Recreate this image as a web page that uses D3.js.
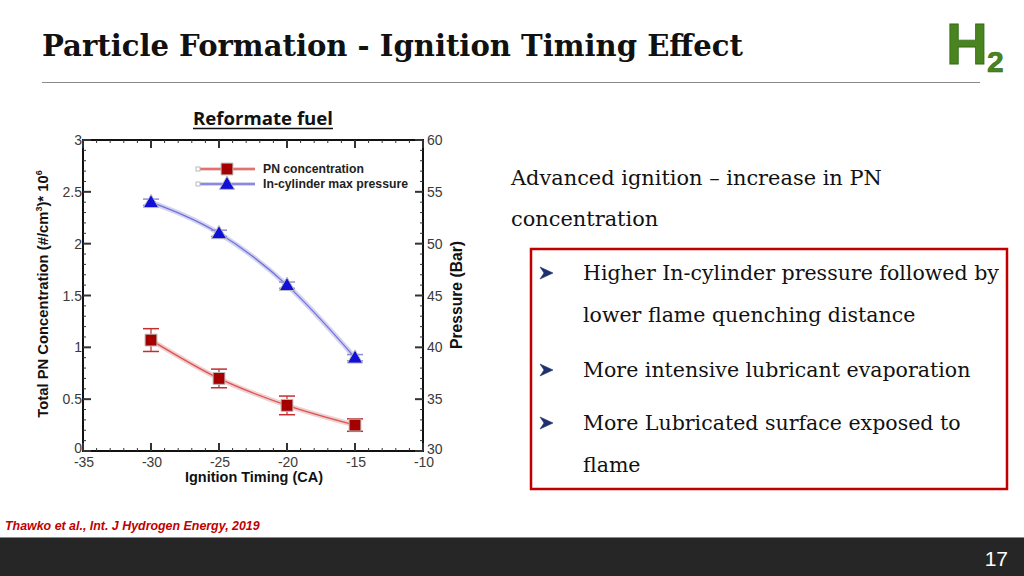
<!DOCTYPE html>
<html><head><meta charset="utf-8">
<script src="https://cdn.jsdelivr.net/npm/d3@7"></script>
<style>body{margin:0;background:#fff}svg{display:block}</style>
</head><body>
<svg id="c" width="1024" height="576"></svg>
<script>
const timing = [-30, -25, -20, -15];
const pnValues = [1.07, 0.70, 0.44, 0.25];
const pnErrors = [0.11, 0.09, 0.09, 0.06];
const pressureValues = [54, 51, 46, 39];
const pressureErrors = [0.3, 0.3, 0.3, 0.3];
const xTicks = [-35, -30, -25, -20, -15, -10];
const yLeftTicks = [0, 0.5, 1, 1.5, 2, 2.5, 3];
const yRightTicks = [30, 35, 40, 45, 50, 55, 60];
const seriesNames = ["PN concentration", "In-cylinder max pressure"];
const bullets = [
  ["Higher In-cylinder pressure followed by", "lower flame quenching distance"],
  ["More intensive lubricant evaporation"],
  ["More Lubricated surface exposed to", "flame"]
];

const svg = d3.select("#c");
const L = 83, R = 423, T = 140, B = 451;
const x = d3.scaleLinear([-35, -10], [L, R]);
const yL = d3.scaleLinear([0, 3], [B, T]);
const yR = d3.scaleLinear([30, 60], [B, T]);

function fit(sel, w) {
  const n = sel.node();
  const fs = parseFloat(sel.attr("font-size"));
  const m = n.getComputedTextLength();
  sel.attr("font-size", (fs * w / m).toFixed(2));
  return sel;
}
function applyAttrs(s, o) { for (const k in o) s.attr(k, o[k]); return s; }

// Title
fit(svg.append("text").attr("x", 42).attr("y", 56).attr("font-family", "DejaVu Serif")
  .attr("font-weight", "bold").attr("font-size", 26).attr("fill", "#111")
  .text("Particle Formation - Ignition Timing Effect"), 701);
svg.append("line").attr("x1", 42).attr("x2", 980).attr("y1", 82.5).attr("y2", 82.5)
  .attr("stroke", "#8a8a8a").attr("stroke-width", 1.2);

// Logo
svg.append("text").attr("x", 946).attr("y", 64).attr("font-family", "Liberation Sans")
  .attr("font-weight", "bold").attr("font-size", 58).attr("fill", "#4a8420").attr("stroke", "#2f6a12").attr("stroke-width", 0.8).text("H");
svg.append("text").attr("x", 987).attr("y", 72).attr("font-family", "Liberation Sans")
  .attr("font-weight", "bold").attr("font-size", 30).attr("fill", "#4a8420").attr("stroke", "#2f6a12").attr("stroke-width", 0.6).text("2");

// Subtitle
const sub = svg.append("text").attr("x", 263).attr("y", 125).attr("text-anchor", "middle")
  .attr("font-family", "Open Sans").attr("font-weight", "bold").attr("font-size", 15)
  .attr("fill", "#111").text("Reformate fuel");
fit(sub, 140);
svg.append("line").attr("x1", 193).attr("x2", 333).attr("y1", 128.5).attr("y2", 128.5)
  .attr("stroke", "#111").attr("stroke-width", 1.3);

// Chart frame
const g = svg.append("g");
g.append("rect").attr("x", L).attr("y", T).attr("width", R - L).attr("height", B - T)
  .attr("fill", "none").attr("stroke", "#111").attr("stroke-width", 2);

const tickCol = "#333";
d3.range(-35, -9.99, 1).forEach(v => {
  const major = xTicks.includes(v);
  const len = major ? 8 : 3;
  g.append("line").attr("x1", x(v)).attr("x2", x(v)).attr("y1", B).attr("y2", B - len)
    .attr("stroke", tickCol).attr("stroke-width", major ? 2 : 1);
  g.append("line").attr("x1", x(v)).attr("x2", x(v)).attr("y1", T).attr("y2", T + len)
    .attr("stroke", tickCol).attr("stroke-width", major ? 2 : 1);
});
d3.range(0, 3.001, 0.1).map(v => +v.toFixed(1)).forEach(v => {
  const major = yLeftTicks.includes(v);
  const len = major ? 8 : 3;
  g.append("line").attr("x1", L).attr("x2", L + len).attr("y1", yL(v)).attr("y2", yL(v))
    .attr("stroke", tickCol).attr("stroke-width", major ? 2 : 1);
});
d3.range(30, 60.001, 1).forEach(v => {
  const major = yRightTicks.includes(v);
  const len = major ? 8 : 3;
  g.append("line").attr("x1", R).attr("x2", R - len).attr("y1", yR(v)).attr("y2", yR(v))
    .attr("stroke", tickCol).attr("stroke-width", major ? 2 : 1);
});

// tick labels
const lab = {fill: "#3a3a3a", "font-family": "Liberation Sans", "font-size": 14};
xTicks.forEach(v => applyAttrs(g.append("text"), lab).attr("x", x(v) + 1).attr("y", 467)
  .attr("text-anchor", "middle").text(v));
yLeftTicks.forEach(v => applyAttrs(g.append("text"), lab).attr("x", L - 1).attr("y", yL(v) + (v === 0 ? 2 : 5))
  .attr("text-anchor", "end").text(v));
yRightTicks.forEach(v => applyAttrs(g.append("text"), lab).attr("x", R + 4).attr("y", yR(v) + (v === 30 ? 3 : 5))
  .attr("text-anchor", "start").text(v));

// axis titles
const ttl = {fill: "#111", "font-family": "Liberation Sans", "font-weight": "bold", "font-size": 14};
fit(applyAttrs(g.append("text"), ttl).attr("x", 254).attr("y", 482).attr("text-anchor", "middle")
  .text("Ignition Timing (CA)"), 138);
const yt = applyAttrs(g.append("text"), ttl).attr("transform", "translate(48,294) rotate(-90)")
  .attr("text-anchor", "middle");
yt.append("tspan").text("Total PN Concentration (#/cm");
yt.append("tspan").attr("dy", -6).attr("font-size", 9).text("3");
yt.append("tspan").attr("dy", 6).text(")* 10");
yt.append("tspan").attr("dy", -6).attr("font-size", 9).text("6");
fit(yt, 248);
fit(applyAttrs(g.append("text"), ttl).attr("transform", "translate(462,295) rotate(-90)")
  .attr("text-anchor", "middle").text("Pressure (Bar)"), 108);

// series
const pnData = timing.map((t, i) => ({t, v: pnValues[i], e: pnErrors[i]}));
const prData = timing.map((t, i) => ({t, v: pressureValues[i], e: pressureErrors[i]}));
const pnLine = d3.line().x(d => x(d.t)).y(d => yL(d.v)).curve(d3.curveMonotoneX);
const prLine = d3.line().x(d => x(d.t)).y(d => yR(d.v)).curve(d3.curveMonotoneX);

g.append("path").attr("d", prLine(prData)).attr("fill", "none").attr("stroke", "#d4d4ee").attr("stroke-width", 5);
g.append("path").attr("d", prLine(prData)).attr("fill", "none").attr("stroke", "#7070e0").attr("stroke-width", 1.3);
g.append("path").attr("d", pnLine(pnData)).attr("fill", "none").attr("stroke", "#efd0d0").attr("stroke-width", 5);
g.append("path").attr("d", pnLine(pnData)).attr("fill", "none").attr("stroke", "#e05050").attr("stroke-width", 1.3);

// error bars
function errBars(data, y, col) {
  data.forEach(d => {
    const cx = x(d.t), y1 = y(d.v + d.e), y2 = y(d.v - d.e);
    g.append("line").attr("x1", cx).attr("x2", cx).attr("y1", y1).attr("y2", y2).attr("stroke", col).attr("stroke-width", 1.2);
    [y1, y2].forEach(yy => g.append("line").attr("x1", cx - 8).attr("x2", cx + 8).attr("y1", yy).attr("y2", yy)
      .attr("stroke", col).attr("stroke-width", 1.5));
  });
}
errBars(pnData, yL, "#c03030");
errBars(prData, yR, "#9090d0");

// markers
const sq = d3.symbol().type(d3.symbolSquare).size(140);
const tri = d3.symbol().type(d3.symbolTriangle).size(100);
g.selectAll(".pn").data(pnData).join("path").attr("d", sq)
  .attr("transform", d => `translate(${x(d.t)},${yL(d.v)})`)
  .attr("fill", "#a50000").attr("stroke", "#bbb").attr("stroke-width", 1);
g.selectAll(".pr").data(prData).join("path").attr("d", tri)
  .attr("transform", d => `translate(${x(d.t)},${yR(d.v) + 1})`)
  .attr("fill", "#1010d8").attr("stroke", "#bbb").attr("stroke-width", 1);

// legend
const leg = [{y: 169, col: "#e05050", halo: "#efd0d0", sym: sq, fill: "#a50000"},
             {y: 184, col: "#7070e0", halo: "#d4d4ee", sym: tri, fill: "#1010d8"}];
leg.forEach((l, i) => {
  g.append("line").attr("x1", 198).attr("x2", 255).attr("y1", l.y).attr("y2", l.y).attr("stroke", l.halo).attr("stroke-width", 4);
  g.append("line").attr("x1", 198).attr("x2", 255).attr("y1", l.y).attr("y2", l.y).attr("stroke", l.col).attr("stroke-width", 1.3);
  g.append("rect").attr("x", 196).attr("y", l.y - 2).attr("width", 4).attr("height", 4).attr("fill", "#fff").attr("stroke", "#bbb");
  g.append("path").attr("d", l.sym).attr("transform", `translate(227,${l.y + (i ? 1 : 0)})`).attr("fill", l.fill).attr("stroke", "#bbb");
  fit(g.append("text").attr("x", 263).attr("y", l.y + 4).attr("font-family", "Liberation Sans").attr("font-weight", "bold")
    .attr("font-size", 11).attr("fill", "#222").text(seriesNames[i]), i ? 145 : 101);
});

// right text
const serif = "DejaVu Serif";
const h1 = fit(svg.append("text").attr("x", 511).attr("y", 185).attr("font-family", serif).attr("font-size", 18)
  .attr("fill", "#111").text("Advanced ignition \u2013 increase in PN"), 371);
svg.append("text").attr("x", 511).attr("y", 226).attr("font-family", serif).attr("font-size", h1.attr("font-size"))
  .attr("fill", "#111").text("concentration");

svg.append("rect").attr("x", 531).attr("y", 249).attr("width", 476).attr("height", 240)
  .attr("fill", "none").attr("stroke", "#c00000").attr("stroke-width", 2.5);

const bulletYs = [[280, 322], [377], [430, 472]];
let bfs = 18;
bullets.forEach((b, i) => {
  const by = bulletYs[i][0] - 7;
  svg.append("path").attr("d", `M540,${by - 6} L553,${by} L540,${by + 6} L544,${by} Z`)
    .attr("fill", "#1f3070").attr("stroke", "#1f3070").attr("stroke-width", 0.6).attr("stroke-linejoin", "round");
  b.forEach((line, j) => {
    const t = svg.append("text").attr("x", 583).attr("y", bulletYs[i][j]).attr("font-family", serif)
      .attr("font-size", 18).attr("fill", "#111").text(line);
    if (i === 0 && j === 0) { fit(t, 416); bfs = parseFloat(t.attr("font-size")); }
    else t.attr("font-size", bfs);
  });
});

// footer
fit(svg.append("text").attr("x", 5).attr("y", 530).attr("font-family", "Liberation Sans")
  .attr("font-weight", "bold").attr("font-style", "italic").attr("font-size", 12).attr("fill", "#c00000")
  .text("Thawko et al., Int. J Hydrogen Energy, 2019"), 255);
svg.append("rect").attr("x", 0).attr("y", 537).attr("width", 1024).attr("height", 39).attr("fill", "#262626");
svg.append("line").attr("x1", 0).attr("x2", 1024).attr("y1", 537.5).attr("y2", 537.5).attr("stroke", "#8a8a8a");
svg.append("text").attr("x", 1008).attr("y", 566).attr("text-anchor", "end").attr("font-family", "Liberation Sans")
  .attr("font-size", 21).attr("fill", "#fff").text("17");
</script>
</body></html>
